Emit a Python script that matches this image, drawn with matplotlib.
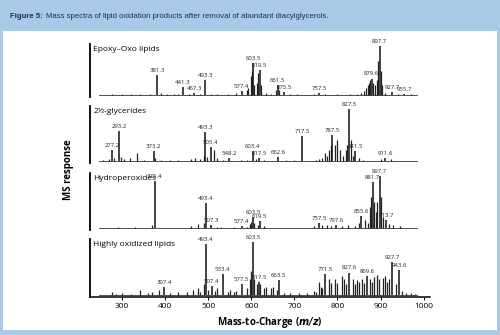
import matplotlib
matplotlib.use('Agg')
import matplotlib.pyplot as plt
from matplotlib.patches import Rectangle

plt.rcParams['font.family'] = ['Open Sans', 'DejaVu Sans']

# Peak lists (m/z, relative height) - labelled peaks and minor peaks per spectrum
titles = ['Epoxy\u2013Oxo lipids', '2\u00bd-glycerides', 'Hydroperoxides', 'Highly oxidized lipids']

epoxy_lab_mz = [381.3, 441.3, 467.3, 493.3, 577.4, 603.5, 619.5, 661.5, 675.5, 757.5, 879.6, 897.7, 927.7, 955.7]
epoxy_lab_h = [0.42, 0.17, 0.05, 0.30, 0.08, 0.66, 0.52, 0.20, 0.07, 0.04, 0.34, 1.0, 0.06, 0.03]
epoxy_min_mz = [275, 300, 320, 341, 365, 390, 405, 420, 430, 455, 480, 507, 520, 545, 565, 589, 593, 598,
                601, 607, 613, 616, 622, 633, 645, 657, 665, 690, 705, 745, 770, 800, 830, 845, 855, 862,
                866, 870, 873, 876, 883, 887, 892, 895, 900, 903, 911, 940, 970]
epoxy_min_h = [0.02, 0.02, 0.015, 0.02, 0.02, 0.04, 0.02, 0.02, 0.03, 0.02, 0.02, 0.02, 0.02, 0.015, 0.05,
               0.1, 0.15, 0.4, 0.5, 0.2, 0.25, 0.45, 0.2, 0.04, 0.03, 0.1, 0.1, 0.02, 0.015, 0.02, 0.02,
               0.015, 0.02, 0.03, 0.05, 0.08, 0.15, 0.2, 0.25, 0.3, 0.25, 0.2, 0.3, 0.7, 0.5, 0.2, 0.04,
               0.02, 0.015]

glyc_lab_mz = [277.2, 293.2, 373.2, 493.3, 505.4, 548.2, 603.4, 617.5, 662.6, 717.5, 787.5, 827.5, 841.5, 911.6]
glyc_lab_h = [0.21, 0.57, 0.19, 0.55, 0.27, 0.05, 0.18, 0.05, 0.08, 0.47, 0.49, 1.0, 0.18, 0.05]
glyc_min_mz = [255, 270, 281, 297, 305, 317, 335, 350, 376, 390, 410, 430, 460, 470, 480, 489, 497, 512,
               520, 535, 575, 590, 610, 630, 680, 700, 750, 757, 765, 771, 775, 780, 784, 795, 800, 805,
               812, 820, 823, 831, 835, 850, 860, 900, 925]
glyc_min_h = [0.02, 0.03, 0.06, 0.08, 0.04, 0.05, 0.15, 0.02, 0.05, 0.02, 0.02, 0.015, 0.04, 0.05, 0.04,
              0.1, 0.08, 0.2, 0.05, 0.02, 0.02, 0.02, 0.04, 0.02, 0.015, 0.02, 0.02, 0.03, 0.06, 0.15,
              0.1, 0.2, 0.3, 0.3, 0.4, 0.2, 0.1, 0.2, 0.3, 0.4, 0.1, 0.05, 0.02, 0.03, 0.04]

hydro_lab_mz = [375.4, 493.4, 507.3, 577.4, 603.5, 619.5, 757.5, 797.6, 855.6, 881.7, 897.7, 913.7]
hydro_lab_h = [0.9, 0.47, 0.05, 0.04, 0.2, 0.13, 0.1, 0.05, 0.22, 0.87, 1.0, 0.15]
hydro_min_mz = [290, 330, 370, 460, 475, 489, 520, 530, 560, 590, 597, 600, 607, 615, 630, 745, 765, 775,
                785, 810, 825, 840, 850, 865, 870, 875, 878, 885, 890, 893, 900, 905, 920, 930, 945]
hydro_min_h = [0.015, 0.02, 0.05, 0.04, 0.08, 0.1, 0.02, 0.02, 0.015, 0.02, 0.07, 0.12, 0.1, 0.05, 0.04,
               0.03, 0.05, 0.06, 0.03, 0.03, 0.06, 0.03, 0.1, 0.15, 0.1, 0.4, 0.6, 0.5, 0.3, 0.5, 0.6,
               0.2, 0.08, 0.05, 0.03]

oxid_lab_mz = [397.4, 493.4, 507.4, 533.4, 577.5, 603.5, 617.5, 663.5, 771.5, 827.6, 869.6, 927.7, 943.6]
oxid_lab_h = [0.15, 0.96, 0.17, 0.4, 0.2, 1.0, 0.24, 0.28, 0.4, 0.42, 0.36, 0.62, 0.46]
oxid_min_mz = [275, 285, 300, 320, 341, 360, 370, 385, 410, 430, 450, 465, 475, 480, 489, 500, 515, 521,
               545, 550, 560, 565, 590, 597, 600, 607, 612, 621, 630, 635, 645, 650, 660, 675, 690, 710,
               730, 745, 750, 757, 762, 765, 780, 785, 795, 800, 810, 815, 820, 835, 840, 845, 850, 857,
               862, 875, 880, 885, 892, 897, 905, 910, 915, 920, 935, 950, 960, 970, 980]
oxid_min_h = [0.05, 0.02, 0.03, 0.02, 0.1, 0.03, 0.05, 0.1, 0.04, 0.05, 0.06, 0.1, 0.12, 0.06, 0.2, 0.1,
              0.08, 0.12, 0.06, 0.1, 0.05, 0.08, 0.12, 0.3, 0.45, 0.3, 0.2, 0.2, 0.12, 0.15, 0.12, 0.15,
              0.1, 0.04, 0.03, 0.03, 0.03, 0.08, 0.05, 0.25, 0.15, 0.12, 0.3, 0.22, 0.3, 0.22, 0.35, 0.3,
              0.2, 0.3, 0.2, 0.28, 0.25, 0.3, 0.22, 0.3, 0.25, 0.33, 0.38, 0.3, 0.32, 0.35, 0.25, 0.3,
              0.2, 0.08, 0.04, 0.03, 0.02]

scan_range = [245, 985]
xticks = [300, 400, 500, 600, 700, 800, 900, 1000]

spectra = [
    (epoxy_lab_mz, epoxy_lab_h, epoxy_min_mz, epoxy_min_h),
    (glyc_lab_mz, glyc_lab_h, glyc_min_mz, glyc_min_h),
    (hydro_lab_mz, hydro_lab_h, hydro_min_mz, hydro_min_h),
    (oxid_lab_mz, oxid_lab_h, oxid_min_mz, oxid_min_h),
]

W, H = 500, 335
fig = plt.figure(figsize=(5, 3.35), dpi=100, facecolor='#a9c9e6')
# white inner panel, kept behind the axes
fig.patches.append(Rectangle((3 / W, 5 / H), 494 / W, 299 / H, transform=fig.transFigure,
                             facecolor='white', edgecolor='none', zorder=-10))
t1 = fig.text(10 / W, 1 - 16 / H, 'Figure 5:', fontsize=5.6, color='#1b2d5c', va='center',
              fontweight='bold', family=['Liberation Sans'])
fig.canvas.draw()
bb = t1.get_window_extent()
fig.text(bb.x1 / W + 3 / W, 1 - 16 / H,
         'Mass spectra of lipid oxidation products after removal of abundant diacylglycerols.',
         fontsize=5.6, color='#1b2d5c', va='center', family=['Liberation Sans'])

# axes boxes as (top px, bottom px)
boxes = [(44, 97), (106, 163), (173, 230), (239, 297)]
left, right = 90 / W, 430 / W

for i, ((top, bot), (lab_mz, lab_h, min_mz, min_h)) in enumerate(zip(boxes, spectra)):
    ax = fig.add_axes([left, 1 - bot / H, right - left, (bot - top) / H])
    ax.set_facecolor('none')
    ax.plot(scan_range, [0, 0], color='#333333', lw=0.6)
    ax.vlines(min_mz, 0, min_h, color='#222222', lw=0.9)
    ax.vlines(lab_mz, 0, lab_h, color='#111111', lw=1.1)
    for m, h in zip(lab_mz, lab_h):
        ax.annotate(f'{m:.1f}', (m, h), xytext=(0, 1.5), textcoords='offset points',
                    ha='center', va='bottom', fontsize=4.3, color='#222222', annotation_clip=False)
    ax.text(0.01, 0.97, titles[i], transform=ax.transAxes, fontsize=6, va='top', ha='left')
    ax.set_xlim(225, 1015)
    ax.set_ylim(-0.04, 1.05)
    for s in ['top', 'right']:
        ax.spines[s].set_visible(False)
    ax.spines['left'].set_linewidth(1.3)
    ax.set_yticks([])
    if i < 3:
        ax.spines['bottom'].set_visible(False)
        ax.set_xticks([])
    else:
        ax.spines['bottom'].set_linewidth(1.1)
        ax.set_xticks(xticks)
        ax.tick_params(axis='x', labelsize=6, length=2.5, width=0.7, pad=2)

fig.text(68 / W, 1 - 170 / H, 'MS response', rotation=90, fontsize=7, fontweight='bold',
         ha='center', va='center')
fig.text(270 / W, 1 - 322 / H, r'Mass-to-Charge ($\mathbfit{m/z}$)', fontsize=7, fontweight='bold',
         ha='center', va='center')

fig.savefig('out.png', dpi=100, facecolor=fig.get_facecolor())
